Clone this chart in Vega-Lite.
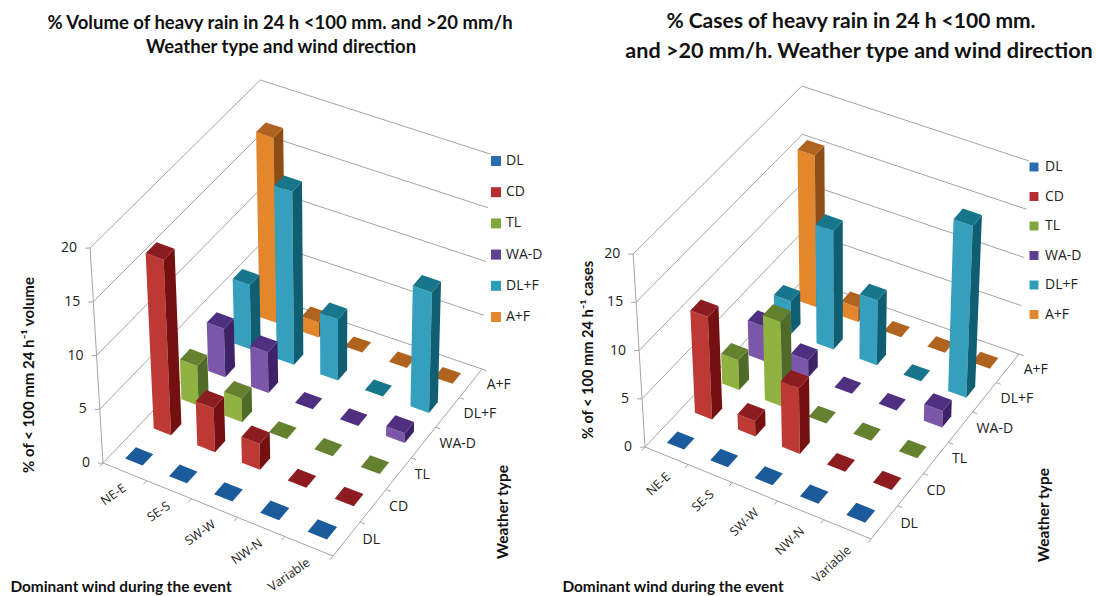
{
  "$schema": "https://vega.github.io/schema/vega-lite/v6.json",
  "width": 1096,
  "height": 596,
  "padding": 0,
  "autosize": {"type": "none"},
  "background": "white",
  "config": {"view": {"stroke": null}, "axis": {"disable": true}},
  "params": [
    {"name": "cam", "value": {
      "Volume": {"a": 209.1, "b": 186.9, "c": 103, "d": 58.1, "e": -139.1, "f": 463, "g": -0.0628, "h": 0.098, "pz": 10.75, "vx": 334, "vy": 4318, "tilt": 325, "ox": 0, "oy": 15},
      "Cases": {"a": 177.6, "b": 231, "c": 645, "d": 62, "e": -143, "f": 447, "g": -0.0556, "h": 0.0895, "pz": 9.65, "vx": 844, "vy": 3697, "tilt": 317, "ox": 2, "oy": 19}
    }}
  ],
  "datasets": {
    "bars": [
      {"panel":"Volume","weather":"A+F","wind":"NE-E","value":17.2},{"panel":"Volume","weather":"A+F","wind":"SE-S","value":1.4},{"panel":"Volume","weather":"A+F","wind":"SW-W","value":0},{"panel":"Volume","weather":"A+F","wind":"NW-N","value":0},{"panel":"Volume","weather":"A+F","wind":"Variable","value":0},
      {"panel":"Volume","weather":"DL+F","wind":"NE-E","value":6},{"panel":"Volume","weather":"DL+F","wind":"SE-S","value":16.1},{"panel":"Volume","weather":"DL+F","wind":"SW-W","value":5.7},{"panel":"Volume","weather":"DL+F","wind":"NW-N","value":0},{"panel":"Volume","weather":"DL+F","wind":"Variable","value":11.2},
      {"panel":"Volume","weather":"WA-D","wind":"NE-E","value":4.5},{"panel":"Volume","weather":"WA-D","wind":"SE-S","value":3.8},{"panel":"Volume","weather":"WA-D","wind":"SW-W","value":0},{"panel":"Volume","weather":"WA-D","wind":"NW-N","value":0},{"panel":"Volume","weather":"WA-D","wind":"Variable","value":0.9},
      {"panel":"Volume","weather":"TL","wind":"NE-E","value":3.7},{"panel":"Volume","weather":"TL","wind":"SE-S","value":2.2},{"panel":"Volume","weather":"TL","wind":"SW-W","value":0},{"panel":"Volume","weather":"TL","wind":"NW-N","value":0},{"panel":"Volume","weather":"TL","wind":"Variable","value":0},
      {"panel":"Volume","weather":"CD","wind":"NE-E","value":16.3},{"panel":"Volume","weather":"CD","wind":"SE-S","value":4.1},{"panel":"Volume","weather":"CD","wind":"SW-W","value":2.4},{"panel":"Volume","weather":"CD","wind":"NW-N","value":0},{"panel":"Volume","weather":"CD","wind":"Variable","value":0},
      {"panel":"Volume","weather":"DL","wind":"NE-E","value":0},{"panel":"Volume","weather":"DL","wind":"SE-S","value":0},{"panel":"Volume","weather":"DL","wind":"SW-W","value":0},{"panel":"Volume","weather":"DL","wind":"NW-N","value":0},{"panel":"Volume","weather":"DL","wind":"Variable","value":0},
      {"panel":"Cases","weather":"A+F","wind":"NE-E","value":15.7},{"panel":"Cases","weather":"A+F","wind":"SE-S","value":1.5},{"panel":"Cases","weather":"A+F","wind":"SW-W","value":0},{"panel":"Cases","weather":"A+F","wind":"NW-N","value":0},{"panel":"Cases","weather":"A+F","wind":"Variable","value":0},
      {"panel":"Cases","weather":"DL+F","wind":"NE-E","value":3.4},{"panel":"Cases","weather":"DL+F","wind":"SE-S","value":12.3},{"panel":"Cases","weather":"DL+F","wind":"SW-W","value":6.7},{"panel":"Cases","weather":"DL+F","wind":"NW-N","value":0},{"panel":"Cases","weather":"DL+F","wind":"Variable","value":17.8},
      {"panel":"Cases","weather":"WA-D","wind":"NE-E","value":3.6},{"panel":"Cases","weather":"WA-D","wind":"SE-S","value":1.8},{"panel":"Cases","weather":"WA-D","wind":"SW-W","value":0},{"panel":"Cases","weather":"WA-D","wind":"NW-N","value":0},{"panel":"Cases","weather":"WA-D","wind":"Variable","value":1.7},
      {"panel":"Cases","weather":"TL","wind":"NE-E","value":3.1},{"panel":"Cases","weather":"TL","wind":"SE-S","value":8.8},{"panel":"Cases","weather":"TL","wind":"SW-W","value":0},{"panel":"Cases","weather":"TL","wind":"NW-N","value":0},{"panel":"Cases","weather":"TL","wind":"Variable","value":0},
      {"panel":"Cases","weather":"CD","wind":"NE-E","value":10.6},{"panel":"Cases","weather":"CD","wind":"SE-S","value":1.6},{"panel":"Cases","weather":"CD","wind":"SW-W","value":6.8},{"panel":"Cases","weather":"CD","wind":"NW-N","value":0},{"panel":"Cases","weather":"CD","wind":"Variable","value":0},
      {"panel":"Cases","weather":"DL","wind":"NE-E","value":0},{"panel":"Cases","weather":"DL","wind":"SE-S","value":0},{"panel":"Cases","weather":"DL","wind":"SW-W","value":0},{"panel":"Cases","weather":"DL","wind":"NW-N","value":0},{"panel":"Cases","weather":"DL","wind":"Variable","value":0}
    ],
    "frame": [
      {"path":"g0","s":0,"u":0,"v":0,"z":0},{"path":"g0","s":1,"u":0,"v":1,"z":0},{"path":"g0","s":2,"u":1,"v":1,"z":0},
      {"path":"g5","s":0,"u":0,"v":0,"z":5},{"path":"g5","s":1,"u":0,"v":1,"z":5},{"path":"g5","s":2,"u":1,"v":1,"z":5},
      {"path":"g10","s":0,"u":0,"v":0,"z":10},{"path":"g10","s":1,"u":0,"v":1,"z":10},{"path":"g10","s":2,"u":1,"v":1,"z":10},
      {"path":"g15","s":0,"u":0,"v":0,"z":15},{"path":"g15","s":1,"u":0,"v":1,"z":15},{"path":"g15","s":2,"u":1,"v":1,"z":15},
      {"path":"g20","s":0,"u":0,"v":0,"z":20},{"path":"g20","s":1,"u":0,"v":1,"z":20},{"path":"g20","s":2,"u":1,"v":1,"z":20},
      {"path":"zaxis","s":0,"u":0,"v":0,"z":0},{"path":"zaxis","s":1,"u":0,"v":0,"z":20},
      {"path":"floor","s":0,"u":0,"v":0,"z":0},{"path":"floor","s":1,"u":1,"v":0,"z":0},{"path":"floor","s":2,"u":1,"v":1,"z":0},
      {"path":"tz0","s":0,"u":0,"v":0,"z":0},{"path":"tz0","s":1,"u":-0.0156,"v":-0.0085,"z":0},
      {"path":"tz5","s":0,"u":0,"v":0,"z":5},{"path":"tz5","s":1,"u":-0.0156,"v":-0.0085,"z":5},
      {"path":"tz10","s":0,"u":0,"v":0,"z":10},{"path":"tz10","s":1,"u":-0.0156,"v":-0.0085,"z":10},
      {"path":"tz15","s":0,"u":0,"v":0,"z":15},{"path":"tz15","s":1,"u":-0.0156,"v":-0.0085,"z":15},
      {"path":"tz20","s":0,"u":0,"v":0,"z":20},{"path":"tz20","s":1,"u":-0.0156,"v":-0.0085,"z":20},
      {"path":"tu0","s":0,"u":0,"v":0,"z":0},{"path":"tu0","s":1,"u":0,"v":-0.018,"z":0},
      {"path":"tu1","s":0,"u":0.2,"v":0,"z":0},{"path":"tu1","s":1,"u":0.2,"v":-0.018,"z":0},
      {"path":"tu2","s":0,"u":0.4,"v":0,"z":0},{"path":"tu2","s":1,"u":0.4,"v":-0.018,"z":0},
      {"path":"tu3","s":0,"u":0.6,"v":0,"z":0},{"path":"tu3","s":1,"u":0.6,"v":-0.018,"z":0},
      {"path":"tu4","s":0,"u":0.8,"v":0,"z":0},{"path":"tu4","s":1,"u":0.8,"v":-0.018,"z":0},
      {"path":"tu5","s":0,"u":1,"v":0,"z":0},{"path":"tu5","s":1,"u":1,"v":-0.018,"z":0},
      {"path":"tv1","s":0,"u":1,"v":0.1667,"z":0},{"path":"tv1","s":1,"u":1.02,"v":0.1667,"z":0},
      {"path":"tv2","s":0,"u":1,"v":0.3333,"z":0},{"path":"tv2","s":1,"u":1.02,"v":0.3333,"z":0},
      {"path":"tv3","s":0,"u":1,"v":0.5,"z":0},{"path":"tv3","s":1,"u":1.02,"v":0.5,"z":0},
      {"path":"tv4","s":0,"u":1,"v":0.6667,"z":0},{"path":"tv4","s":1,"u":1.02,"v":0.6667,"z":0},
      {"path":"tv5","s":0,"u":1,"v":0.8333,"z":0},{"path":"tv5","s":1,"u":1.02,"v":0.8333,"z":0},
      {"path":"tv6","s":0,"u":1,"v":1,"z":0},{"path":"tv6","s":1,"u":1.02,"v":1,"z":0}
    ],
    "valueTicks": [{"tick":"0","z":0},{"tick":"5","z":5},{"tick":"10","z":10},{"tick":"15","z":15},{"tick":"20","z":20}],
    "windTicks": [{"tick":"NE-E","u":0.1},{"tick":"SE-S","u":0.3},{"tick":"SW-W","u":0.5},{"tick":"NW-N","u":0.7},{"tick":"Variable","u":0.9}],
    "typeTicks": [{"tick":"DL","v":0.0833},{"tick":"CD","v":0.25},{"tick":"TL","v":0.4167},{"tick":"WA-D","v":0.5833},{"tick":"DL+F","v":0.75},{"tick":"A+F","v":0.9167}],
    "series": [{"weather":"DL"},{"weather":"CD"},{"weather":"TL"},{"weather":"WA-D"},{"weather":"DL+F"},{"weather":"A+F"}],
    "one": [{"item":"caption"}]
  },
  "resolve": {"scale": {"color": "independent"}},
  "layer": [
    {
      "description": "Wall grid lines, floor edges and tick marks of both 3D frames",
      "data": {"name": "frame"},
      "transform": [
        {"calculate": "['Volume','Cases']", "as": "panel"},
        {"flatten": ["panel"]},
        {"calculate": "cam[datum.panel]", "as": "k"},
        {"calculate": "1+datum.k.g*datum.u+datum.k.h*datum.v", "as": "w"},
        {"calculate": "(datum.k.a*datum.u+datum.k.b*datum.v+datum.k.c)/datum.w", "as": "bx"},
        {"calculate": "(datum.k.d*datum.u+datum.k.e*datum.v+datum.k.f)/datum.w", "as": "by"},
        {"calculate": "datum.z*datum.k.pz", "as": "rise"},
        {"calculate": "datum.bx+(datum.bx-datum.k.vx)*datum.rise/(datum.k.vy-datum.by)", "as": "px"},
        {"calculate": "datum.by-datum.rise", "as": "py"},
        {"calculate": "datum.panel+datum.path", "as": "key"}
      ],
      "mark": {"type": "line", "color": "#a4a4a4", "strokeWidth": 1, "clip": false},
      "encoding": {
        "x": {"field": "px", "type": "quantitative", "scale": {"domain": [0, 1096], "nice": false, "zero": false}},
        "y": {"field": "py", "type": "quantitative", "scale": {"domain": [596, 0], "nice": false, "zero": false}},
        "detail": {"field": "key"},
        "order": {"field": "s", "type": "quantitative"}
      }
    },
    {
      "description": "Bar faces, listed back to front so nearer bars cover farther ones",
      "data": {"name": "bars"},
      "transform": [
        {"calculate": "(indexof(['NE-E','SE-S','SW-W','NW-N','Variable'],datum.wind)+0.5)/5", "as": "u0"},
        {"calculate": "(indexof(['DL','CD','TL','WA-D','DL+F','A+F'],datum.weather)+0.5)/6", "as": "v0"},
        {"calculate": "['left','right','top']", "as": "face"},
        {"flatten": ["face"]},
        {"filter": "datum.value>0 || datum.face=='top'"},
        {"calculate": "[0,1,2,3]", "as": "corner"},
        {"flatten": ["corner"]},
        {"calculate": "datum.u0+0.04*{top:[-1,1,1,-1],left:[-1,1,1,-1],right:[1,1,1,1]}[datum.face][datum.corner]", "as": "u"},
        {"calculate": "datum.v0+0.031*{top:[-1,-1,1,1],left:[-1,-1,-1,-1],right:[-1,1,1,-1]}[datum.face][datum.corner]", "as": "v"},
        {"calculate": "datum.value*{top:[1,1,1,1],left:[1,1,0,0],right:[1,1,0,0]}[datum.face][datum.corner]", "as": "z"},
        {"calculate": "cam[datum.panel]", "as": "k"},
        {"calculate": "1+datum.k.g*datum.u+datum.k.h*datum.v", "as": "w"},
        {"calculate": "(datum.k.a*datum.u+datum.k.b*datum.v+datum.k.c)/datum.w", "as": "bx"},
        {"calculate": "(datum.k.d*datum.u+datum.k.e*datum.v+datum.k.f)/datum.w", "as": "by"},
        {"calculate": "datum.z*datum.k.pz", "as": "rise"},
        {"calculate": "datum.bx+(datum.bx-datum.k.vx)*datum.rise/(datum.k.vy-datum.by)", "as": "px"},
        {"calculate": "datum.by-datum.rise", "as": "py"},
        {"calculate": "datum.weather+'|'+datum.face", "as": "tone"},
        {"calculate": "datum.panel+datum.wind+datum.weather+datum.face", "as": "key"}
      ],
      "mark": {"type": "line", "filled": true, "interpolate": "linear-closed", "clip": false},
      "encoding": {
        "x": {"field": "px", "type": "quantitative", "scale": {"domain": [0, 1096], "nice": false, "zero": false}},
        "y": {"field": "py", "type": "quantitative", "scale": {"domain": [596, 0], "nice": false, "zero": false}},
        "detail": {"field": "key"},
        "order": {"field": "corner", "type": "quantitative"},
        "color": {
          "field": "tone", "type": "nominal", "legend": null,
          "scale": {
            "domain": ["DL|top","DL|left","DL|right","CD|top","CD|left","CD|right","TL|top","TL|left","TL|right","WA-D|top","WA-D|left","WA-D|right","DL+F|top","DL+F|left","DL+F|right","A+F|top","A+F|left","A+F|right"],
            "range": ["#1b5a9b","#2a6cb5","#14447a","#8c1c20","#bc3a33","#741010","#64812f","#8fb240","#4f6b27","#4e2f80","#7c56a9","#3e2268","#17758c","#35a0bd","#105e72","#b0631f","#e4862c","#8e4d16"]
          }
        }
      }
    },
    {
      "description": "Value tick labels",
      "data": {"name": "valueTicks"},
      "transform": [
        {"calculate": "['Volume','Cases']", "as": "panel"},
        {"flatten": ["panel"]},
        {"calculate": "cam[datum.panel]", "as": "k"},
        {"calculate": "datum.z*datum.k.pz", "as": "rise"},
        {"calculate": "datum.k.c+(datum.k.c-datum.k.vx)*datum.rise/(datum.k.vy-datum.k.f)", "as": "px"},
        {"calculate": "datum.k.f-datum.rise", "as": "py"}
      ],
      "mark": {"type": "text", "font": "Open Sans", "fontSize": 14, "align": "right", "baseline": "middle", "dx": -13, "color": "#222222"},
      "encoding": {
        "x": {"field": "px", "type": "quantitative"},
        "y": {"field": "py", "type": "quantitative"},
        "text": {"field": "tick"}
      }
    },
    {
      "description": "Wind direction labels along the front-left floor edge",
      "data": {"name": "windTicks"},
      "transform": [
        {"calculate": "['Volume','Cases']", "as": "panel"},
        {"flatten": ["panel"]},
        {"calculate": "cam[datum.panel]", "as": "k"},
        {"calculate": "1+datum.k.g*datum.u", "as": "w"},
        {"calculate": "(datum.k.a*datum.u+datum.k.c)/datum.w+datum.k.ox", "as": "px"},
        {"calculate": "(datum.k.d*datum.u+datum.k.f)/datum.w+datum.k.oy", "as": "py"},
        {"calculate": "datum.k.tilt", "as": "tilt"}
      ],
      "mark": {"type": "text", "font": "Open Sans", "fontSize": 12.5, "align": "right", "baseline": "middle", "color": "#222222"},
      "encoding": {
        "x": {"field": "px", "type": "quantitative"},
        "y": {"field": "py", "type": "quantitative"},
        "angle": {"field": "tilt", "type": "quantitative", "scale": null},
        "text": {"field": "tick"}
      }
    },
    {
      "description": "Weather type labels along the front-right floor edge",
      "data": {"name": "typeTicks"},
      "transform": [
        {"calculate": "['Volume','Cases']", "as": "panel"},
        {"flatten": ["panel"]},
        {"calculate": "cam[datum.panel]", "as": "k"},
        {"calculate": "1+datum.k.g+datum.k.h*datum.v", "as": "w"},
        {"calculate": "(datum.k.a+datum.k.b*datum.v+datum.k.c)/datum.w", "as": "px"},
        {"calculate": "(datum.k.d+datum.k.e*datum.v+datum.k.f)/datum.w", "as": "py"}
      ],
      "mark": {"type": "text", "font": "Open Sans", "fontSize": 14, "align": "left", "baseline": "middle", "dx": 16, "dy": 1.5, "color": "#222222"},
      "encoding": {
        "x": {"field": "px", "type": "quantitative"},
        "y": {"field": "py", "type": "quantitative"},
        "text": {"field": "tick"}
      }
    },
    {
      "description": "Legend of the left chart",
      "data": {"name": "series"},
      "mark": {"type": "square", "size": 0, "opacity": 1},
      "encoding": {
        "x": {"datum": 496},
        "y": {"datum": 160},
        "color": {
          "field": "weather", "type": "nominal",
          "scale": {"domain": ["DL","CD","TL","WA-D","DL+F","A+F"], "range": ["#2b6cb0","#b52b2f","#7fa63b","#5d3f92","#2e9db9","#e2862f"]},
          "legend": {"orient": "none", "legendX": 489, "legendY": 154, "title": null, "symbolType": "square", "symbolSize": 100, "symbolOpacity": 1, "labelFont": "Open Sans", "labelFontSize": 14, "labelColor": "#222222", "labelOffset": 3, "rowPadding": 17.2, "padding": 0}
        }
      }
    },
    {
      "description": "Legend of the right chart",
      "data": {"name": "series"},
      "mark": {"type": "square", "size": 0, "opacity": 1},
      "encoding": {
        "x": {"datum": 1034},
        "y": {"datum": 166},
        "color": {
          "field": "weather", "type": "nominal",
          "scale": {"domain": ["DL","CD","TL","WA-D","DL+F","A+F"], "range": ["#2b6cb0","#b52b2f","#7fa63b","#5d3f92","#2e9db9","#e2862f"]},
          "legend": {"orient": "none", "legendX": 1027, "legendY": 160, "title": null, "symbolType": "square", "symbolSize": 80, "symbolOpacity": 1, "labelFont": "Open Sans", "labelFontSize": 14, "labelColor": "#222222", "labelOffset": 4, "rowPadding": 15.5, "padding": 0}
        }
      }
    },
    {"data": {"name": "one"}, "mark": {"type": "text", "text": "% Volume of heavy rain in 24 h <100 mm. and >20 mm/h", "font": "Lato", "fontWeight": "bold", "fontSize": 18.5, "color": "#111111"}, "encoding": {"x": {"datum": 280}, "y": {"datum": 23}}},
    {"data": {"name": "one"}, "mark": {"type": "text", "text": "Weather type and wind direction", "font": "Lato", "fontWeight": "bold", "fontSize": 18.5, "color": "#111111"}, "encoding": {"x": {"datum": 281}, "y": {"datum": 47}}},
    {"data": {"name": "one"}, "mark": {"type": "text", "text": "% Cases of heavy rain in 24 h <100 mm.", "font": "Lato", "fontWeight": "bold", "fontSize": 21, "color": "#111111"}, "encoding": {"x": {"datum": 851}, "y": {"datum": 22}}},
    {"data": {"name": "one"}, "mark": {"type": "text", "text": "and >20 mm/h. Weather type and wind direction", "font": "Lato", "fontWeight": "bold", "fontSize": 21.6, "color": "#111111"}, "encoding": {"x": {"datum": 859}, "y": {"datum": 52}}},
    {"data": {"name": "one"}, "mark": {"type": "text", "text": "% of < 100 mm 24 h⁻¹ volume", "font": "Lato", "fontWeight": "bold", "fontSize": 15, "angle": 270, "color": "#111111"}, "encoding": {"x": {"datum": 29}, "y": {"datum": 375}}},
    {"data": {"name": "one"}, "mark": {"type": "text", "text": "% of < 100 mm 24 h⁻¹ cases", "font": "Lato", "fontWeight": "bold", "fontSize": 14.6, "angle": 270, "color": "#111111"}, "encoding": {"x": {"datum": 589}, "y": {"datum": 350}}},
    {"data": {"name": "one"}, "mark": {"type": "text", "text": "Dominant wind during the event", "font": "Lato", "fontWeight": "bold", "fontSize": 15.4, "color": "#111111"}, "encoding": {"x": {"datum": 121}, "y": {"datum": 587}}},
    {"data": {"name": "one"}, "mark": {"type": "text", "text": "Dominant wind during the event", "font": "Lato", "fontWeight": "bold", "fontSize": 15.4, "color": "#111111"}, "encoding": {"x": {"datum": 673}, "y": {"datum": 587}}},
    {"data": {"name": "one"}, "mark": {"type": "text", "text": "Weather type", "font": "Lato", "fontWeight": "bold", "fontSize": 15.4, "angle": 270, "color": "#111111"}, "encoding": {"x": {"datum": 503}, "y": {"datum": 512}}},
    {"data": {"name": "one"}, "mark": {"type": "text", "text": "Weather type", "font": "Lato", "fontWeight": "bold", "fontSize": 15.4, "angle": 270, "color": "#111111"}, "encoding": {"x": {"datum": 1044}, "y": {"datum": 515}}}
  ]
}
